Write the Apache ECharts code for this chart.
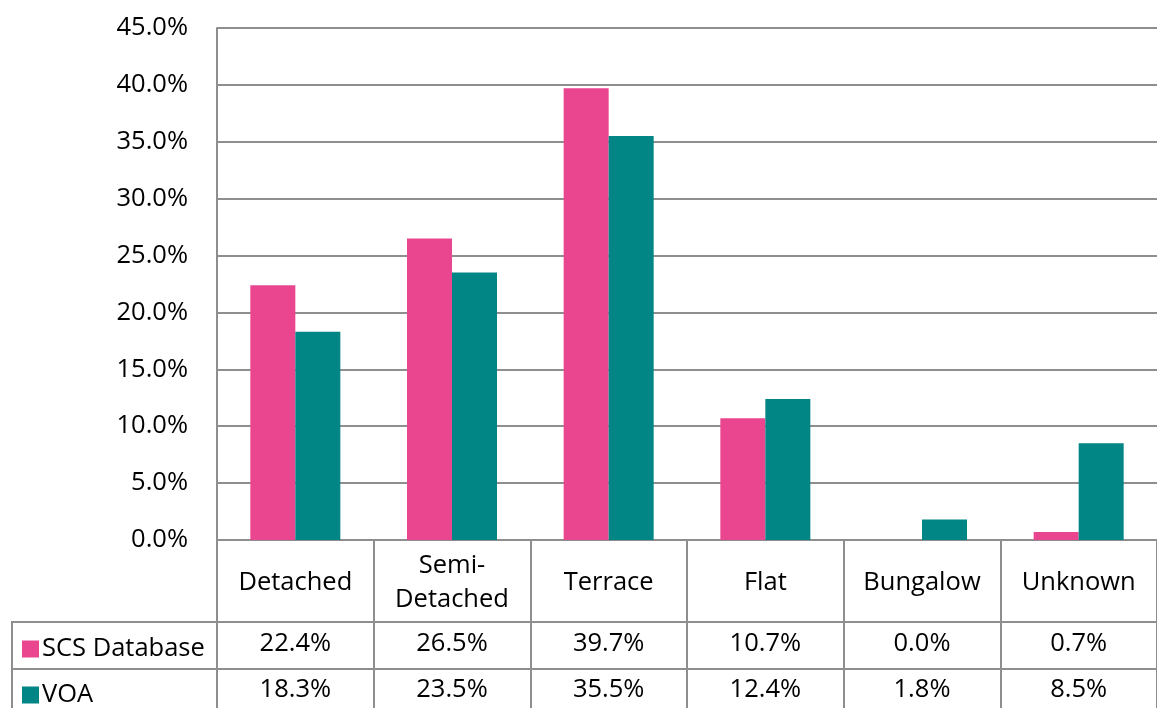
<!DOCTYPE html>
<html>
<head>
<meta charset="utf-8">
<script src="https://cdn.jsdelivr.net/npm/echarts@6/dist/echarts.min.js"></script>
<style>
html,body{margin:0;padding:0;background:#fff;}
#main{width:1157px;height:708px;}
</style>
</head>
<body>
<div id="main"></div>
<script>
var categories = ['Detached', 'Semi-\nDetached', 'Terrace', 'Flat', 'Bungalow', 'Unknown'];
var scsValues = [22.4, 26.5, 39.7, 10.7, 0.0, 0.7];
var voaValues = [18.3, 23.5, 35.5, 12.4, 1.8, 8.5];
var seriesNames = ['SCS Database', 'VOA'];
var seriesColors = ['#EA4690', '#018585'];
var yTicks = {min: 0, max: 45, interval: 5};

var FONT = '"Open Sans", sans-serif';
var LINE = '#8E8E8E';
var FS = 25.5;

var chart = echarts.init(document.getElementById('main'), null, {renderer: 'canvas'});

function fmt(v) { return v.toFixed(1) + '%'; }

var option = {
  animation: false,
  backgroundColor: '#fff',
  textStyle: {fontFamily: FONT},
  grid: {left: 217, top: 28, right: -3, bottom: 168, containLabel: false},
  legend: [
    {data: [seriesNames[0]], left: 22, top: 636, padding: 0, orient: 'vertical',
     icon: 'rect', itemWidth: 17, itemHeight: 17, itemGap: 0,
     textStyle: {fontSize: FS, color: '#000', fontFamily: FONT, lineHeight: 17, padding: [0, 0, 0, -2]}},
    {data: [seriesNames[1]], left: 22, top: 682, padding: 0, orient: 'vertical',
     icon: 'rect', itemWidth: 17, itemHeight: 17, itemGap: 0,
     textStyle: {fontSize: FS, color: '#000', fontFamily: FONT, lineHeight: 17, padding: [0, 0, 0, -2]}}
  ],
  xAxis: [
    {
      type: 'category', data: categories, position: 'bottom',
      axisLine: {show: true, lineStyle: {color: LINE, width: 2}},
      axisTick: {show: true, alignWithLabel: false, length: 170, lineStyle: {color: LINE, width: 2}},
      axisLabel: {fontSize: FS, color: '#000', fontFamily: FONT, margin: 43, verticalAlign: 'middle', lineHeight: 34, interval: 0}
    },
    {
      type: 'category', data: categories, position: 'bottom', offset: 82,
      axisLine: {show: true, lineStyle: {color: LINE, width: 2}},
      axisTick: {show: false},
      axisLabel: {fontSize: FS, color: '#000', fontFamily: FONT, margin: 22, verticalAlign: 'middle', interval: 0,
        formatter: function (v, i) { return fmt(scsValues[i]); }}
    },
    {
      type: 'category', data: categories, position: 'bottom', offset: 129,
      axisLine: {show: true, lineStyle: {color: LINE, width: 2}},
      axisTick: {show: false},
      axisLabel: {fontSize: FS, color: '#000', fontFamily: FONT, margin: 21, verticalAlign: 'middle', interval: 0,
        formatter: function (v, i) { return fmt(voaValues[i]); }}
    }
  ],
  yAxis: {
    type: 'value', min: yTicks.min, max: yTicks.max, interval: yTicks.interval,
    axisLine: {show: true, lineStyle: {color: LINE, width: 2}},
    axisTick: {show: false},
    splitLine: {show: true, lineStyle: {color: LINE, width: 2}},
    axisLabel: {fontSize: FS, color: '#000', fontFamily: FONT, margin: 29, formatter: function (v) { return fmt(v); }}
  },
  graphic: [
    {type: 'line', shape: {x1: 12, y1: 622, x2: 217, y2: 622}, style: {stroke: LINE, lineWidth: 2}},
    {type: 'line', shape: {x1: 12, y1: 669, x2: 217, y2: 669}, style: {stroke: LINE, lineWidth: 2}},
    {type: 'line', shape: {x1: 12, y1: 621, x2: 12, y2: 708}, style: {stroke: LINE, lineWidth: 2}}
  ],
  series: [
    {name: seriesNames[0], type: 'bar', data: scsValues, barWidth: 45, barGap: '0%',
     itemStyle: {color: seriesColors[0]}, xAxisIndex: 0},
    {name: seriesNames[1], type: 'bar', data: voaValues, barWidth: 45, barGap: '0%',
     itemStyle: {color: seriesColors[1]}, xAxisIndex: 0}
  ]
};
chart.setOption(option);
</script>
</body>
</html>
